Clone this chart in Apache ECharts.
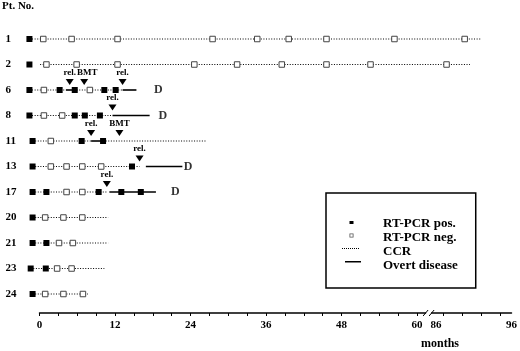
<!DOCTYPE html>
<html>
<head>
<meta charset="utf-8">
<script src="https://cdn.jsdelivr.net/npm/echarts@6/dist/echarts.min.js"></script>
<style>
html, body { margin: 0; padding: 0; background: #fff; }
#main { width: 520px; height: 351px; }
</style>
</head>
<body>
<div id="main"></div>
<script>
// patient rows, top to bottom
var patients = ['1', '2', '6', '8', '11', '13', '17', '20', '21', '23', '24'];

// [month, patient]
var pcrPos = [
    [-1.6, '1'], [-1.6, '2'],
    [-1.6, '6'], [3.2, '6'], [5.6, '6'], [10.3, '6'], [12.1, '6'],
    [-1.6, '8'], [5.6, '8'], [7.2, '8'], [9.6, '8'],
    [-1.1, '11'], [6.7, '11'], [10.1, '11'],
    [-1.1, '13'], [14.7, '13'],
    [-1.1, '17'], [1.1, '17'], [9.4, '17'], [13.0, '17'], [16.1, '17'],
    [-1.1, '20'],
    [-1.1, '21'], [1.1, '21'],
    [-1.4, '23'], [1.0, '23'],
    [-1.1, '24']
];
var pcrNeg = [
    [0.6, '1'], [5.1, '1'], [12.4, '1'], [27.5, '1'], [34.6, '1'], [39.6, '1'], [45.6, '1'], [56.4, '1'], [89.8, '1'],
    [1.1, '2'], [5.9, '2'], [12.4, '2'], [24.6, '2'], [31.4, '2'], [38.5, '2'], [45.6, '2'], [52.6, '2'], [87.4, '2'],
    [0.7, '6'], [8.0, '6'],
    [0.7, '8'], [3.6, '8'],
    [1.8, '11'],
    [1.8, '13'], [4.3, '13'], [6.8, '13'], [9.8, '13'],
    [4.3, '17'], [6.8, '17'],
    [0.9, '20'], [3.8, '20'], [6.8, '20'],
    [3.1, '21'], [5.3, '21'],
    [2.8, '23'], [5.1, '23'],
    [0.9, '24'], [3.8, '24'], [6.9, '24']
];
// [from month, to month, patient]
var ccr = [
    [-1.6, 91.9, '1'], [0.1, 90.5, '2'],
    [-1.6, 4.2, '6'], [5.9, 13.2, '6'],
    [-1.6, 11.6, '8'],
    [-1.1, 8.2, '11'], [10.1, 26.6, '11'],
    [-1.1, 15.9, '13'],
    [-1.1, 10.7, '17'],
    [-1.1, 10.9, '20'], [-1.1, 10.9, '21'], [-1.4, 10.3, '23'], [-1.1, 7.7, '24']
];
var disease = [
    [4.2, 5.9, '6'], [13.2, 15.4, '6'],
    [11.6, 17.5, '8'],
    [8.2, 10.1, '11'],
    [16.9, 22.7, '13'],
    [11.1, 18.5, '17']
];
// [month, patient, event]
var events = [
    [4.8, '6', 'rel.'], [7.1, '6', 'BMT'], [13.2, '6', 'rel.'],
    [11.6, '8', 'rel.'],
    [8.2, '11', 'rel.'], [12.7, '11', 'BMT'],
    [15.9, '13', 'rel.'],
    [10.7, '17', 'rel.']
];
var deaths = [[18.9, '6'], [19.6, '8'], [23.6, '13'], [21.6, '17']];

var labelMonths = [0, 12, 24, 36, 48, 60, 86, 96];
var tickMonths = [0, 3, 6, 9, 12, 15, 18, 21, 24, 27, 30, 33, 36, 39, 42, 45, 48, 51, 54, 57, 60, 87, 89.5, 92, 94.5];

// broken axis: 60 -> 86 months is cut out
function toAxis(m) {
    return m <= 60 ? m : 63 + (m - 86) * 1.2;
}
function row(p) { return patients.indexOf(p); }

var font = "'Liberation Serif', 'DejaVu Serif', serif";
var labelVals = labelMonths.map(toAxis);

var dom = document.getElementById('main');
var chart = echarts.init(dom, null, { renderer: 'canvas' });

function segment(dash, width) {
    return function (params, api) {
        var a = api.coord([api.value(0), api.value(2)]);
        var b = api.coord([api.value(1), api.value(2)]);
        return {
            type: 'line',
            shape: { x1: a[0], y1: a[1], x2: b[0], y2: b[1] },
            style: { stroke: '#000', lineWidth: width, lineDash: dash }
        };
    };
}

var dots = '';
for (var i = 0; i < 18; i += 2) dots += 'M' + i + ',1.5h1v1h-1z';

option = {
    animation: false,
    backgroundColor: '#fff',
    title: [
        { text: 'Pt. No.', left: 2, top: 1, padding: 0,
          textStyle: { fontFamily: font, fontWeight: 'bold', fontSize: 11, color: '#000' } },
        { text: 'months', left: 421, top: 338, padding: 0,
          textStyle: { fontFamily: font, fontWeight: 'bold', fontSize: 12, color: '#000' } }
    ],
    grid: { left: 39.5, right: 5.5, top: 26.25, bottom: 44.25 },
    legend: {
        orient: 'vertical', left: 326, top: 193,
        padding: [24, 18, 16, 16], itemGap: 1, itemWidth: 36, itemHeight: 10,
        borderColor: '#000', borderWidth: 1.5, selectedMode: false,
        textStyle: { fontFamily: font, fontWeight: 'bold', fontSize: 13, color: '#000' },
        data: [
            { name: 'RT-PCR pos.', icon: 'path://M0,0M36,10M7.5,2.5h4v3h-4z', itemStyle: { color: '#000', borderWidth: 0 } },
            { name: 'RT-PCR neg.', icon: 'path://M0,0M36,10M7.5,1h4v4h-4z M8.3,1.8v2.4h2.4v-2.4z', itemStyle: { color: '#555', borderWidth: 0 } },
            { name: 'CCR', icon: 'path://M0,0M36,10' + dots, itemStyle: { color: '#000', borderWidth: 0 } },
            { name: 'Overt disease', icon: 'path://M0,0M36,10M3,0.5h16v1.5h-16z', itemStyle: { color: '#000', borderWidth: 0 } }
        ]
    },
    xAxis: {
        type: 'value', min: 0, max: 75, offset: 6.25,
        axisLine: { show: true, lineStyle: { color: '#000', width: 1.5 } },
        axisTick: { show: true, customValues: tickMonths.map(toAxis), length: 3, lineStyle: { color: '#000', width: 1 } },
        axisLabel: {
            customValues: labelVals, margin: 7,
            fontFamily: font, fontWeight: 'bold', fontSize: 11, color: '#000',
            formatter: function (v) {
                for (var k = 0; k < labelVals.length; k++) {
                    if (Math.abs(labelVals[k] - v) < 0.01) return String(labelMonths[k]);
                }
                return '';
            }
        },
        splitLine: { show: false }
    },
    yAxis: {
        type: 'category', data: patients, inverse: true,
        axisLine: { show: false }, axisTick: { show: false }, splitLine: { show: false },
        axisLabel: { align: 'left', margin: 34, fontFamily: font, fontWeight: 'bold', fontSize: 11, color: '#000' }
    },
    series: [
        {
            name: 'CCR', type: 'custom', clip: false, z: 1,
            itemStyle: { color: '#000' },
            renderItem: segment([1, 1.6], 1.1),
            encode: { x: [0, 1], y: 2 },
            data: ccr.map(function (d) { return [toAxis(d[0]), toAxis(d[1]), row(d[2])]; })
        },
        {
            name: 'Overt disease', type: 'custom', clip: false, z: 1,
            itemStyle: { color: '#000' },
            renderItem: segment(null, 1.6),
            encode: { x: [0, 1], y: 2 },
            data: disease.map(function (d) { return [toAxis(d[0]), toAxis(d[1]), row(d[2])]; })
        },
        {
            name: 'RT-PCR neg.', type: 'scatter', clip: false, z: 3,
            symbol: 'rect', symbolSize: 5.5,
            itemStyle: { color: '#fff', borderColor: '#444', borderWidth: 1, opacity: 1 },
            data: pcrNeg.map(function (d) { return [toAxis(d[0]), row(d[1])]; })
        },
        {
            name: 'RT-PCR pos.', type: 'scatter', clip: false, z: 3,
            symbol: 'rect', symbolSize: 6,
            itemStyle: { color: '#000', opacity: 1 },
            data: pcrPos.map(function (d) { return [toAxis(d[0]), row(d[1])]; })
        },
        {
            name: 'events', type: 'scatter', clip: false, z: 4,
            symbol: 'path://M0,0L10,0L5,7Z', symbolSize: [8, 6], symbolOffset: [0, -8],
            itemStyle: { color: '#000', opacity: 1 },
            label: {
                show: true, position: 'top', distance: 2, formatter: '{b}',
                fontFamily: font, fontWeight: 'bold', fontSize: 9, color: '#000'
            },
            data: events.map(function (d, k) {
                var item = { name: d[2], value: [toAxis(d[0]), row(d[1])] };
                // keep the close "rel." / "BMT" pair of pt. 6 apart
                if (k === 1) item.label = { offset: [3, 0] };
                return item;
            })
        },
        {
            name: 'deaths', type: 'scatter', clip: false, z: 4,
            symbolSize: 1, itemStyle: { color: 'transparent' },
            label: {
                show: true, position: 'inside', formatter: 'D',
                fontFamily: font, fontWeight: 'bold', fontSize: 12, color: '#000'
            },
            data: deaths.map(function (d) { return [toAxis(d[0]), row(d[1])]; })
        }
    ]
};

chart.setOption(option);

// break marks on the x axis
var xb = chart.convertToPixel({ xAxisIndex: 0 }, 60);
var ay = 351 - 44.25 + 6.25;
chart.setOption({
    graphic: [
        { type: 'rect', shape: { x: xb + 9, y: ay - 2, width: 5, height: 4 }, style: { fill: '#fff' }, z: 100 },
        { type: 'line', shape: { x1: xb + 6, y1: ay + 3, x2: xb + 11, y2: ay - 3 }, style: { stroke: '#000', lineWidth: 1 }, z: 101 },
        { type: 'line', shape: { x1: xb + 12, y1: ay + 3, x2: xb + 17, y2: ay - 3 }, style: { stroke: '#000', lineWidth: 1 }, z: 101 }
    ]
});

window.onresize = function () {
    chart.resize();
};
</script>
</body>
</html>
